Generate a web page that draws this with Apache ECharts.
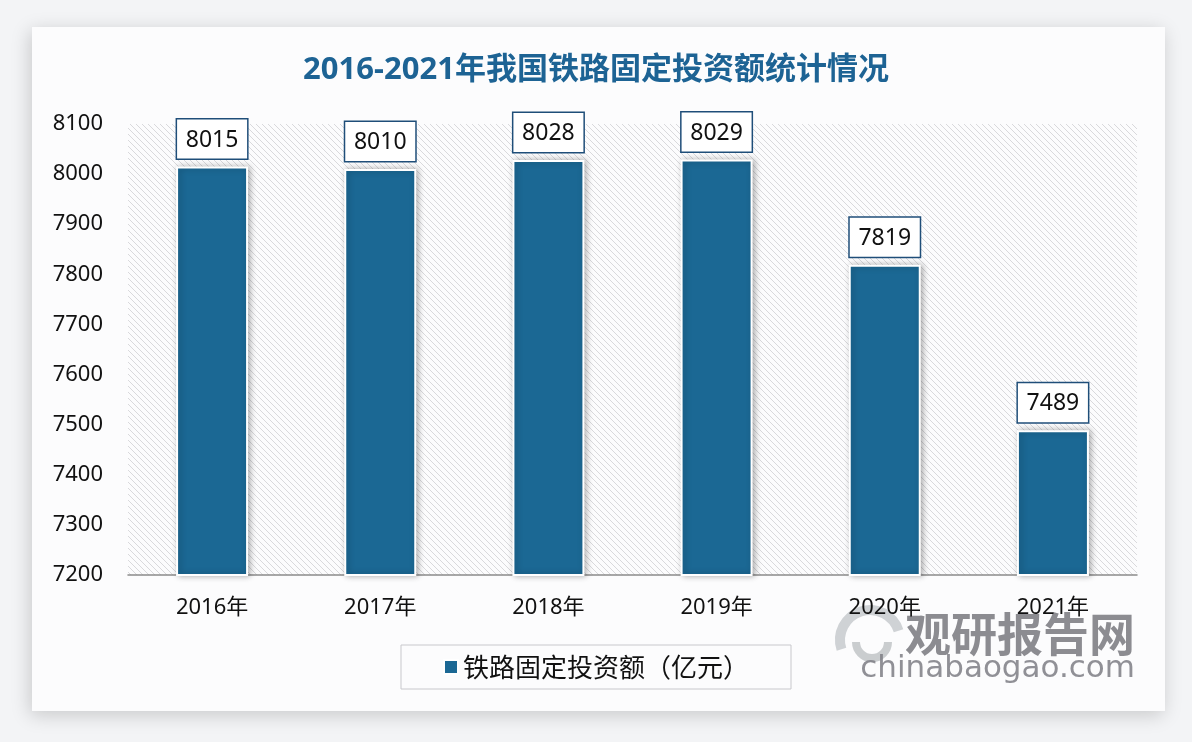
<!DOCTYPE html>
<html><head><meta charset="utf-8">
<script src="https://cdn.jsdelivr.net/npm/echarts@6/dist/echarts.min.js"></script>
<style>html,body{margin:0;padding:0;background:#f3f4f6;}#c{width:1192px;height:742px;}</style>
</head><body><div id="c"></div>
<script>
const categories = ['2016年','2017年','2018年','2019年','2020年','2021年'];
const values = [8015, 8010, 8028, 8029, 7819, 7489];
const seriesName = '铁路固定投资额（亿元）';
const titleText = '2016-2021年我国铁路固定投资额统计情况';
const yMin = 7200, yMax = 8100, yStep = 100;

const FONT = '"Noto Sans", "Noto Sans CJK SC", sans-serif';
const CJK = '"Noto Sans CJK SC", sans-serif';

// hatch pattern
const T = 6;
const tile = document.createElement('canvas');
tile.width = T; tile.height = T;
const tc = tile.getContext('2d');
tc.fillStyle = '#fcfcfd'; tc.fillRect(0,0,T,T);
tc.strokeStyle = '#d9d9dc'; tc.lineWidth = 1;
tc.beginPath();
tc.moveTo(-1,-1); tc.lineTo(T+1,T+1);
tc.moveTo(-1,T-1); tc.lineTo(1,T+1);
tc.moveTo(T-1,-1); tc.lineTo(T+1,1);
tc.stroke();

const chart = echarts.init(document.getElementById('c'));
chart.setOption({
  backgroundColor: '#f3f4f6',
  animation: false,
  graphic: [
    { type: 'rect', z: -10, shape: { x: 32, y: 27, width: 1133, height: 684 },
      style: { fill: '#fcfcfd', shadowBlur: 18, shadowColor: 'rgba(0,0,0,0.18)', shadowOffsetX: -2, shadowOffsetY: 4 } },
    { type: 'group', z: 50, silent: true, children: [
      { type: 'arc', shape: { cx: 870, cy: 640, r: 30, startAngle: Math.PI*0.9, endAngle: Math.PI*1.9 },
        style: { stroke: 'rgba(170,175,180,0.55)', lineWidth: 10, fill: null } },
      { type: 'arc', shape: { cx: 872, cy: 642, r: 16, startAngle: Math.PI*0.0, endAngle: Math.PI*1.0 },
        style: { stroke: 'rgba(160,165,170,0.55)', lineWidth: 8, fill: null } },
      { type: 'text', style: { x: 1135, y: 634, text: '观研报告网', font: 'bold 46px ' + CJK, fill: 'rgba(120,120,126,0.85)', textAlign: 'right', textVerticalAlign: 'middle' } },
      { type: 'text', style: { x: 1135, y: 669, text: 'chinabaogao.com', font: '31px "DejaVu Sans", sans-serif', fill: 'rgba(125,125,132,0.85)', textAlign: 'right', textVerticalAlign: 'middle' } }
    ]}
  ],
  title: {
    text: titleText, left: 'center', top: 50,
    textStyle: { color: '#1d6394', fontSize: 31, fontWeight: 'bold', fontFamily: FONT }
  },
  legend: {
    data: [seriesName], left: 'center', top: 645,
    icon: 'rect', itemWidth: 14, itemHeight: 14, itemGap: 10,
    borderColor: '#c8c8cc', borderWidth: 1, padding: [9, 42],
    textStyle: { fontSize: 26, color: '#111', fontFamily: CJK }
  },
  grid: { left: 128, right: 55, top: 124, bottom: 167, show: true, borderWidth: 0,
    backgroundColor: { image: tile, repeat: 'repeat' } },
  xAxis: {
    type: 'category', data: categories,
    axisLine: { lineStyle: { color: '#8a8a8a', width: 1.5 } },
    axisTick: { show: false },
    axisLabel: { fontSize: 22, color: '#111', margin: 22, fontFamily: FONT }
  },
  yAxis: {
    type: 'value', min: yMin, max: yMax, interval: yStep,
    axisLine: { show: false }, axisTick: { show: false }, splitLine: { show: false },
    axisLabel: { fontSize: 22, color: '#111', margin: 25, fontFamily: FONT, formatter: v => String(v) }
  },
  series: [{
    name: seriesName, type: 'bar', data: values, barWidth: 72,
    itemStyle: { color: '#1b6894', borderColor: '#ffffff', borderWidth: 2,
      shadowBlur: 6, shadowColor: 'rgba(0,0,0,0.3)', shadowOffsetX: 2, shadowOffsetY: 0 },
    label: {
      show: true, position: 'top', distance: 8,
      fontSize: 23, color: '#111', fontFamily: FONT,
      backgroundColor: '#ffffff', borderColor: '#1f4e79', borderWidth: 1.5,
      padding: [9, 0, 7, 0], width: 70, align: 'center'
    }
  }]
});
</script></body></html>
